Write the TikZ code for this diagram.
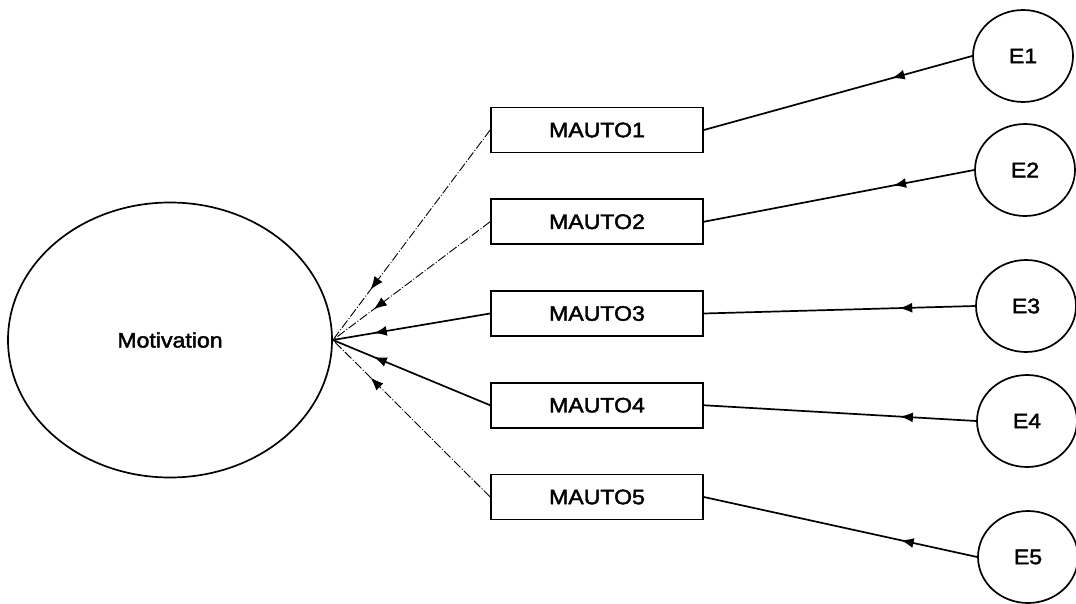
\documentclass[tikz,border=0pt]{standalone}
\usepackage{fontspec}
\setmainfont{Liberation Sans}
\newfontfamily\semfont[FakeStretch=1.1,FakeBold=2]{Liberation Sans}
\usetikzlibrary{shapes.geometric,arrows.meta,decorations.markings}

\begin{document}
\begin{tikzpicture}[x=1pt,y=-1pt,line width=1.7pt,node distance=91.75pt,
    latent/.style={ellipse,draw,inner sep=0pt,font=\semfont\fontsize{21}{23}\selectfont},
    obs/.style={rectangle,draw,minimum width=212pt,minimum height=45pt,inner sep=0pt,font=\semfont\fontsize{21}{23}\selectfont},
    faint/.style={line width=0.9pt,dash pattern=on 9pt off 2pt on 1pt off 2pt},
    tipat/.style={decoration={markings,mark=at position #1 with {\arrow{Latex[length=13pt,width=10pt]}}},postaction=decorate}]

                    \useasboundingbox (0,0) rectangle (1076,604);

                    \node[latent, minimum width=324pt, minimum height=275pt] (mot) at (170,340) {Motivation};

                    \node[obs] (m1) at (597,130) {MAUTO1};
                    \node[obs] (m2) [below of=m1] {MAUTO2};
                    \node[obs] (m3) [below of=m2] {MAUTO3};
                    \node[obs] (m4) [below of=m3] {MAUTO4};
                    \node[obs] (m5) [below of=m4] {MAUTO5};

                    \node[latent, minimum width=100pt, minimum height=92pt] (e1) at (1023,56) {E1};
                    \node[latent, minimum width=100pt, minimum height=92pt] (e2) at (1025,170) {E2};
                    \node[latent, minimum width=100pt, minimum height=92pt] (e3) at (1026,306) {E3};
                    \node[latent, minimum width=100pt, minimum height=92pt] (e4) at (1027,421) {E4};
                    \node[latent, minimum width=100pt, minimum height=92pt] (e5) at (1028,557) {E5};

                    \path
                        (m1.west) edge[faint, tipat=0.76] (mot.east)
                        (m2.west) edge[faint, tipat=0.74] (mot.east)
                        (m3.west) edge[tipat=0.74] (mot.east)
                        (m4.west) edge[tipat=0.74] (mot.east)
                        (m5.west) edge[faint, tipat=0.76] (mot.east)
                        (e1.west) edge[tipat=0.3] (m1.east)
                        (e2.west) edge[tipat=0.3] (m2.east)
                        (e3.west) edge[tipat=0.28] (m3.east)
                        (e4.west) edge[tipat=0.28] (m4.east)
                        (e5.west) edge[tipat=0.28] (m5.east)
                        ;
                \end{tikzpicture}
\end{document}
